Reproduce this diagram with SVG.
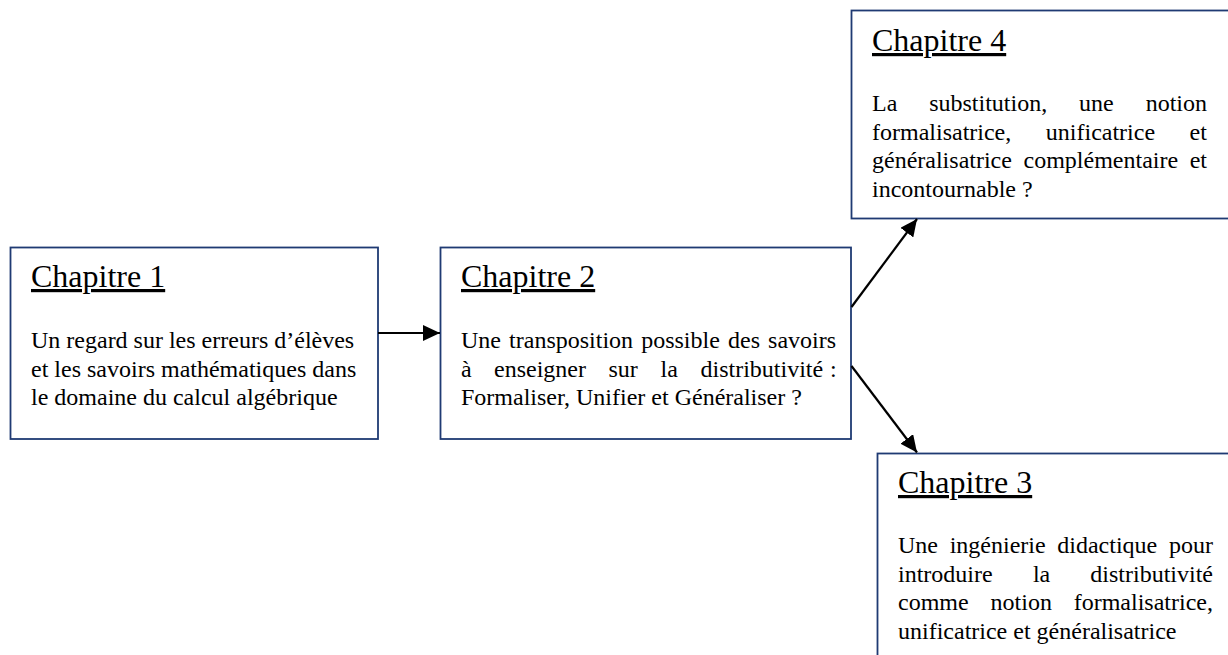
<svg xmlns="http://www.w3.org/2000/svg" width="1228" height="655" viewBox="0 0 1228 655">
  <style>
    .box { fill: #ffffff; stroke: #1f3a73; stroke-width: 1.8; }
    .head { font-family: "Liberation Serif", "Times New Roman", serif; font-size: 32px; fill: #000; text-decoration: underline; }
    .body { font-family: "Liberation Serif", "Times New Roman", serif; font-size: 24px; fill: #000; }
    .conn { stroke: #000; stroke-width: 2.2; fill: none; marker-end: url(#arrow); }
  </style>
  <defs>
    <marker id="arrow" markerUnits="userSpaceOnUse" markerWidth="18" markerHeight="16" refX="17" refY="8" orient="auto">
      <path d="M0,0 L17,8 L0,16 z" fill="#000"/>
    </marker>
  </defs>
  <rect x="0" y="0" width="1228" height="655" fill="#ffffff"/>

  <g id="chapitre1">
    <rect class="box" x="10.5" y="247.5" width="367.5" height="191.5"/>
    <text class="head" x="31" y="287">Chapitre 1</text>
    <text class="body">
      <tspan x="31" y="348">Un regard sur les erreurs d’élèves</tspan>
      <tspan x="31" y="376.5">et les savoirs mathématiques dans</tspan>
      <tspan x="31" y="405">le domaine du calcul algébrique</tspan>
    </text>
  </g>

  <g id="chapitre2">
    <rect class="box" x="440.5" y="247.5" width="410.5" height="191.5"/>
    <text class="head" x="461" y="287">Chapitre 2</text>
    <text class="body">
      <tspan x="461" y="348">Une </tspan><tspan x="509.1" y="348">transposition </tspan><tspan x="641.2" y="348">possible </tspan><tspan x="728" y="348">des </tspan><tspan x="768.1" y="348">savoirs</tspan>
      <tspan x="461" y="376.5">à </tspan><tspan x="494" y="376.5">enseigner </tspan><tspan x="608.5" y="376.5">sur </tspan><tspan x="660.5" y="376.5">la </tspan><tspan x="700.5" y="376.5">distributivité </tspan><tspan x="830" y="376.5">:</tspan>
      <tspan x="461" y="405">Formaliser, Unifier et Généraliser ?</tspan>
    </text>
  </g>

  <g id="chapitre4">
    <rect class="box" x="851.5" y="10.5" width="380" height="208"/>
    <text class="head" x="872" y="51">Chapitre 4</text>
    <text class="body">
      <tspan x="872" y="111">La </tspan><tspan x="929.2" y="111">substitution, </tspan><tspan x="1079.1" y="111">une </tspan><tspan x="1145.7" y="111">notion</tspan>
      <tspan x="872" y="139.5">formalisatrice, </tspan><tspan x="1045.8" y="139.5">unificatrice </tspan><tspan x="1189.6" y="139.5">et</tspan>
      <tspan x="872" y="168">généralisatrice </tspan><tspan x="1023.5" y="168">complémentaire </tspan><tspan x="1189.7" y="168">et</tspan>
      <tspan x="872" y="196.5">incontournable ?</tspan>
    </text>
  </g>

  <g id="chapitre3">
    <rect class="box" x="877.5" y="453.5" width="354" height="215"/>
    <text class="head" x="898" y="493">Chapitre 3</text>
    <text class="body">
      <tspan x="898" y="553">Une </tspan><tspan x="949.7" y="553">ingénierie </tspan><tspan x="1057.3" y="553">didactique </tspan><tspan x="1169" y="553">pour</tspan>
      <tspan x="898" y="581.5">introduire </tspan><tspan x="1032.9" y="581.5">la </tspan><tspan x="1090.3" y="581.5">distributivité</tspan>
      <tspan x="898" y="610">comme </tspan><tspan x="990.6" y="610">notion </tspan><tspan x="1073.7" y="610">formalisatrice,</tspan>
      <tspan x="898" y="638.5">unificatrice et généralisatrice</tspan>
    </text>
  </g>

  <g id="connectors">
    <path class="conn" d="M378,333 L440,333"/>
    <path class="conn" d="M851.5,307 L917,219"/>
    <path class="conn" d="M851.5,366 L917,452.5"/>
  </g>
</svg>
